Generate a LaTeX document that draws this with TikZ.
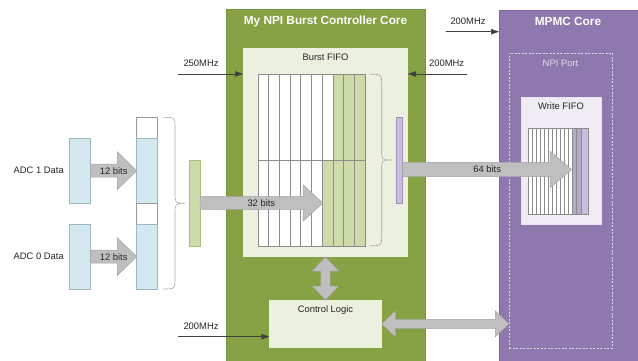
\documentclass[tikz,border=0pt]{standalone}
\usepackage{fontspec}
\setmainfont{Liberation Sans}
\usetikzlibrary{calc,arrows.meta}
\definecolor{coregreen}{HTML}{86A244}
\definecolor{coregreenline}{HTML}{77933C}
\definecolor{corepurple}{HTML}{8F78AD}
\definecolor{corepurpleline}{HTML}{7D65A0}
\definecolor{paleg}{HTML}{EBF0DF}
\definecolor{gridg}{HTML}{CDDBAA}
\definecolor{palep}{HTML}{EFECF4}
\definecolor{gridp}{HTML}{B7A6CE}
\definecolor{gridpl}{HTML}{CBBDDE}
\definecolor{paleblue}{HTML}{D3E9EF}
\definecolor{blueline}{HTML}{9CB9C3}
\definecolor{fatgrey}{HTML}{BFBFBF}
\definecolor{fatline}{HTML}{A3A3A3}
\definecolor{txt}{HTML}{262626}

\newcommand\fatarr[5]{%
  \coordinate (hb) at ($(#2)!#5!(#1)$);
  \draw[fatarrow] ($(#1)!#3!90:(#2)$) -- ($(hb)!#3!90:(#2)$) -- ($(hb)!#4!90:(#2)$) -- (#2)
    -- ($(hb)!#4!-90:(#2)$) -- ($(hb)!#3!-90:(#2)$) -- ($(#1)!#3!-90:(#2)$) -- cycle;}
\newcommand\dblarr[5]{%
  \coordinate (ha) at ($(#1)!#5!(#2)$);
  \coordinate (hb) at ($(#2)!#5!(#1)$);
  \draw[fatarrow] (#1) -- ($(ha)!#4!90:(#2)$) -- ($(ha)!#3!90:(#2)$) -- ($(hb)!#3!-90:(#1)$)
    -- ($(hb)!#4!-90:(#1)$) -- (#2) -- ($(hb)!#4!90:(#1)$) -- ($(hb)!#3!90:(#1)$)
    -- ($(ha)!#3!-90:(#2)$) -- ($(ha)!#4!-90:(#2)$) -- cycle;}

\begin{document}
\begin{tikzpicture}[x=1pt,y=-1pt,
  font=\fontsize{9.4}{11}\selectfont,
  box/.style={inner sep=0pt, outer sep=0pt, anchor=north west},
  fatarrow/.style={fill=fatgrey, draw=fatline, line width=0.5pt, line join=miter},
  clk/.style={draw=black!75, line width=0.5pt, -{Triangle[length=8pt,width=5.5pt]}},
  lbl/.style={text=txt, inner sep=0pt},
  title/.style={text=white, font=\fontsize{11.8}{13}\selectfont\bfseries, inner sep=0pt},
  gl/.style={draw=black!45, line width=0.4pt},
  brc/.style={draw=black!35, line width=0.6pt},
]
\useasboundingbox (0,0) rectangle (638,361);

% cores
\node[box, fill=coregreen, draw=coregreenline, minimum width=199pt, minimum height=353pt] (bcore) at (226,9.5) {};
\node[box, fill=corepurple, draw=corepurpleline, minimum width=141pt, minimum height=353pt] (mcore) at (499,10) {};
\node[title] (bct) at (325.5,21) {My NPI Burst Controller Core};
\node[title] (mct) at (568,21) {MPMC Core};

% NPI port
\node[box, draw=white!70!corepurple, dash pattern=on 2pt off 1.5pt, line width=0.6pt, minimum width=103pt, minimum height=295pt] (npi) at (509,53) {};
\node[lbl, text=white!72!corepurple] (npit) at (560.5,63) {NPI Port};

% Write FIFO
\node[box, fill=palep, draw=white!80!corepurple, minimum width=80pt, minimum height=127pt] (wfifo) at (521,97) {};
\node[lbl] (wft) at (561,106.5) {Write FIFO};
\fill[white] (528,128) rectangle (571.7,214);
\fill[gridp] (571.7,128) rectangle (580.7,214);
\fill[gridpl] (580.7,128) rectangle (587.7,214);
\foreach \i in {1,...,10} \draw[gl] ({528+\i*3.97},128) -- ++(0,86);
\foreach \xx in {571.7,576.3,580.7} \draw[gl] (\xx,128) -- ++(0,86);
\node[box, draw=black!45, line width=0.4pt, minimum width=59.7pt, minimum height=86pt] (wgrid) at (528,128) {};

% Burst FIFO
\node[box, fill=paleg, minimum width=165pt, minimum height=209pt] (bfifo) at (243,48) {};
\node[lbl] (bft) at (325.5,57) {Burst FIFO};
\fill[white] (257.7,74.3) rectangle (365,245.7);
\fill[gridg] (333.3,74.3) rectangle (365,160);
\fill[gridg] (322.7,160) rectangle (365,245.7);
\foreach \i in {1,...,9} \draw[gl] ({257.7+\i*10.73},74.3) -- ++(0,171.4);
\draw[gl] (257.7,160) -- (365,160);
\node[box, draw=black!45, line width=0.4pt, minimum width=107.3pt, minimum height=171.4pt] (bgrid) at (257.7,74.3) {};

% braces
\draw[brc] (370,74.3) .. controls (381.7,74.3) .. (381.7,86) -- (381.7,149)
  .. controls (381.7,160) .. (391.7,160) .. controls (381.7,160) .. (381.7,171)
  -- (381.7,234) .. controls (381.7,245.7) .. (370,245.7);
\draw[brc] (163.3,117.3) .. controls (175,117.3) .. (175,129) -- (175,192)
  .. controls (175,203.3) .. (185,203.3) .. controls (175,203.3) .. (175,214.6)
  -- (175,277) .. controls (175,289) .. (163.3,289);

% bars
\node[box, fill=gridpl, draw=corepurple!80, line width=0.5pt, minimum width=6pt, minimum height=86pt] (pbar) at (396.7,117) {};
\node[box, fill=gridg, draw=coregreen!70, line width=0.5pt, minimum width=10.7pt, minimum height=86pt] (gbar) at (189.3,160) {};

% ADC
\node[box, fill=paleblue, draw=blueline, line width=0.5pt, minimum width=21.4pt, minimum height=65.3pt] (adc1) at (69.3,138) {};
\node[box, fill=paleblue, draw=blueline, line width=0.5pt, minimum width=21.4pt, minimum height=64.7pt] (adc0) at (69.3,224.3) {};
\node[box, fill=white, draw=black!40, line width=0.5pt, minimum width=21pt, minimum height=21pt] (s1w) at (136.7,117.3) {};
\node[box, fill=paleblue, draw=blueline, line width=0.5pt, minimum width=21pt, minimum height=65pt] (s1b) at (136.7,138.3) {};
\node[box, fill=white, draw=black!40, line width=0.5pt, minimum width=21pt, minimum height=21pt] (s0w) at (136.7,203.3) {};
\node[box, fill=paleblue, draw=blueline, line width=0.5pt, minimum width=21pt, minimum height=64.7pt] (s0b) at (136.7,224.3) {};
\node[lbl, anchor=east] (a1t) at (64,170.7) {ADC 1 Data};
\node[lbl, anchor=east] (a0t) at (64,256.7) {ADC 0 Data};

% control logic
\node[box, fill=paleg, minimum width=112.4pt, minimum height=47.7pt] (ctrl) at (269.3,300) {};
\node[lbl] (ctt) at (325.5,310) {Control Logic};

% fat arrows
\fatarr{adc1.east}{s1b.west}{6.5pt}{18.8pt}{19.4pt}
\node[lbl] (l12a) at ($(adc1.east)!0.5!(s1b.west)$) {12 bits};
\fatarr{adc0.east}{s0b.west}{6.5pt}{18.8pt}{19.4pt}
\node[lbl] (l12b) at ($(adc0.east)!0.5!(s0b.west)$) {12 bits};
\coordinate (bin) at (322.7,203);
\fatarr{gbar.east}{bin}{6.3pt}{18.3pt}{19.7pt}
\node[lbl] (l32) at ($(gbar.east)!0.5!(bin)$) {32 bits};
\coordinate (pout) at (402.7,169.5);
\coordinate (win) at (571.7,169.5);
\fatarr{pout}{win}{7.2pt}{18.3pt}{21.7pt}
\node[lbl] (l64) at ($(pout)!0.5!(win)$) {64 bits};
\dblarr{bfifo.south}{ctrl.north}{4.7pt}{13.3pt}{14pt}
\dblarr{ctrl.east}{ctrl.east -| npi.west}{4.6pt}{13pt}{13.7pt}

% clock arrows
\coordinate (c1) at (178,74);
\draw[clk] (c1) -- (c1 -| bfifo.west);
\node[lbl] (c1t) at (201,63) {250MHz};
\coordinate (c2) at (466.7,74);
\draw[clk] (c2) -- (c2 -| bfifo.east);
\node[lbl] (c2t) at (446.7,63) {200MHz};
\coordinate (c3) at (445.7,31.7);
\draw[clk] (c3) -- (c3 -| mcore.west);
\node[lbl] (c3t) at (468,21) {200MHz};
\coordinate (c4) at (178,336.7);
\draw[clk] (c4) -- (c4 -| ctrl.west);
\node[lbl] (c4t) at (201,326) {200MHz};
\end{tikzpicture}
\end{document}
